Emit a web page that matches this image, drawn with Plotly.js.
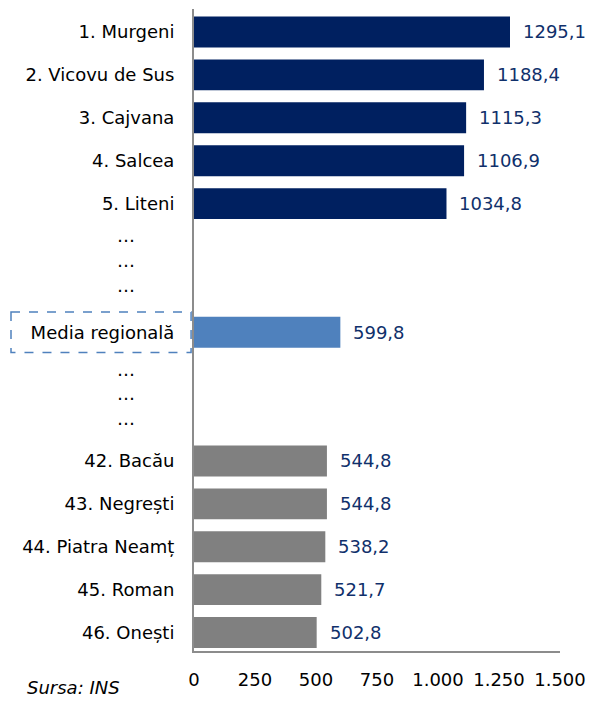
<!DOCTYPE html>
<html>
<head>
<meta charset="utf-8">
<script src="https://cdn.plot.ly/plotly-3.0.1.min.js"></script>
<style>html,body{margin:0;padding:0;background:#fff;}#chart{width:590px;height:701px;}</style>
</head>
<body>
<div id="chart"></div>
<script>
// ---- data ----
const topNames = ['1. Murgeni', '2. Vicovu de Sus', '3. Cajvana', '4. Salcea', '5. Liteni'];
const topValues = [1295.1, 1188.4, 1115.3, 1106.9, 1034.8];
const mediaName = 'Media regională';
const mediaValue = 599.8;
const bottomNames = ['42. Bacău', '43. Negrești', '44. Piatra Neamț', '45. Roman', '46. Onești'];
const bottomValues = [544.8, 544.8, 538.2, 521.7, 502.8];
const gapNames = ['gap1', 'gap2', 'gap3', 'gap4'];
const xTickVals = [0, 250, 500, 750, 1000, 1250, 1500];
const xTickText = ['0', '250', '500', '750', '1.000', '1.250', '1.500'];
const source = 'Sursa: INS';

// ---- build ----
const cats = [...topNames, gapNames[0], gapNames[1], mediaName, gapNames[2], gapNames[3], ...bottomNames];
const catText = cats.map(c => gapNames.includes(c) ? '' : c);
const FONT = 'DejaVu Sans';
const NAVY = '#002060', MED = '#4f81bd', GREY = '#808080', LBL = '#10306b';
const fmt = v => v.toFixed(1).replace('.', ',');

const traces = [
  {type: 'bar', orientation: 'h', y: topNames, x: topValues, marker: {color: NAVY}, width: 0.72, hoverinfo: 'none'},
  {type: 'bar', orientation: 'h', y: [mediaName], x: [mediaValue], marker: {color: MED}, width: 0.72, hoverinfo: 'none'},
  {type: 'bar', orientation: 'h', y: bottomNames, x: bottomValues, marker: {color: GREY}, width: 0.72, hoverinfo: 'none'}
];

const annotations = [];
const allNames = [...topNames, mediaName, ...bottomNames];
const allVals = [...topValues, mediaValue, ...bottomValues];
allNames.forEach((n, i) => {
  annotations.push({x: allVals[i], y: n, xref: 'x', yref: 'y', text: fmt(allVals[i]), showarrow: false,
    xanchor: 'left', yanchor: 'middle', xshift: 11, font: {family: FONT, size: 18, color: LBL}});
});
// ellipsis rows
const mIdx = cats.indexOf(mediaName);
[-2.25, -1.67, -1.09, 0.86, 1.42, 2.0].forEach(off => {
  annotations.push({x: -0.186, xref: 'paper', y: mIdx + off, yref: 'y', text: '…', showarrow: false,
    xanchor: 'center', yanchor: 'middle', font: {family: FONT, size: 18, color: '#000'}});
});
annotations.push({x: -0.462, xref: 'paper', y: -0.0576, yref: 'paper', text: '<i>' + source + '</i>', showarrow: false,
  xanchor: 'left', yanchor: 'middle', font: {family: FONT, size: 18, color: '#000'}});

const layout = {
  width: 590, height: 701,
  margin: {l: 194, r: 30, t: 9, b: 50},
  paper_bgcolor: '#fff', plot_bgcolor: '#fff',
  showlegend: false,
  barmode: 'overlay',
  font: {family: FONT, size: 18, color: '#000'},
  xaxis: {range: [0, 1500], tickvals: xTickVals, ticktext: xTickText, showgrid: false, zeroline: false,
    showline: true, linecolor: '#8c8c8c', linewidth: 2, ticks: '', ticklabelstandoff: 11,
    tickfont: {family: FONT, size: 18, color: '#000'}, fixedrange: true},
  yaxis: {type: 'category', categoryorder: 'array', categoryarray: cats, tickvals: cats, ticktext: catText,
    range: [14.43, -0.536], showgrid: false, zeroline: false,
    showline: true, linecolor: '#8c8c8c', linewidth: 2, ticks: '', ticklabelstandoff: 14,
    tickfont: {family: FONT, size: 18, color: '#000'}, fixedrange: true},
  shapes: [{type: 'rect', xref: 'paper', yref: 'y', x0: -0.5, x1: -0.008, y0: mIdx - 0.47, y1: mIdx + 0.47,
    line: {color: MED, width: 1.5, dash: 'dash'}, fillcolor: 'rgba(0,0,0,0)'}],
  annotations: annotations
};

Plotly.newPlot('chart', traces, layout, {displayModeBar: false, staticPlot: true});
</script>
</body>
</html>
